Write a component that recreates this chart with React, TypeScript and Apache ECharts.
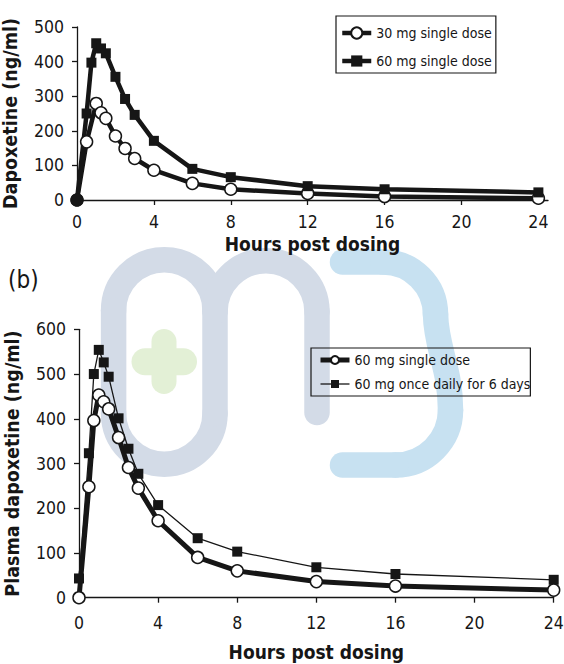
import React, { useEffect, useRef } from "react";
import * as echarts from "echarts";

// ---- Data ----
const xTicks = [0, 4, 8, 12, 16, 20, 24];

// Panel (a)
const hours30a = [0, 0.5, 1, 1.25, 1.5, 2, 2.5, 3, 4, 6, 8, 12, 16, 24];
const conc30a = [0, 168, 279, 252, 236, 185, 149, 120, 86, 48, 31, 19, 10, 5];
const hours60a = [0, 0.5, 0.75, 1, 1.25, 1.5, 2, 2.5, 3, 4, 6, 8, 12, 16, 24];
const conc60a = [0, 250, 397, 453, 438, 424, 356, 292, 246, 171, 90, 66, 40, 31, 22];

// Panel (b)
const hoursSingleB = [0, 0.5, 0.75, 1, 1.25, 1.5, 2, 2.5, 3, 4, 6, 8, 12, 16, 24];
const concSingleB = [0, 248, 396, 453, 438, 422, 358, 291, 245, 172, 90, 60, 36, 26, 17];
const hoursDailyB = [0, 0.5, 0.75, 1, 1.25, 1.5, 2, 2.5, 3, 4, 6, 8, 12, 16, 24];
const concDailyB = [43, 323, 500, 554, 526, 494, 401, 333, 277, 207, 133, 103, 68, 53, 40];

const nameA30 = "30 mg single dose";
const nameA60 = "60 mg single dose";
const nameBSingle = "b:60 mg single dose";
const nameBDaily = "b:60 mg once daily for 6 days";

const FF = "'DejaVu Sans Condensed', 'DejaVu Sans', sans-serif";
const INK = "#161616";

const pairs = (xs: number[], ys: number[]) => xs.map((x, i) => [x, ys[i]]);

export default function App() {
  const ref = useRef<HTMLDivElement>(null);

  useEffect(() => {
    if (!ref.current) return;
    const chart = echarts.init(ref.current, undefined, { renderer: "svg" });

    const xAxisCommon = (gridIndex: number, max: number, labelMargin: number, nameGap: number) => ({
      type: "value",
      gridIndex,
      min: 0,
      max,
      splitLine: { show: false },
      axisLine: { show: true, lineStyle: { color: INK, width: 1.3 } },
      axisTick: { show: true, length: 5, inside: false, customValues: xTicks, lineStyle: { color: INK, width: 1.3 } },
      axisLabel: {
        customValues: xTicks,
        margin: labelMargin,
        fontSize: 17.5,
        fontFamily: FF,
        color: INK,
      },
      name: "Hours post dosing",
      nameLocation: "middle",
      nameGap,
      nameTextStyle: { fontSize: 19, fontWeight: "bold", fontFamily: FF, color: INK },
    });

    const yAxisCommon = (gridIndex: number, max: number, name: string) => ({
      type: "value",
      gridIndex,
      min: 0,
      max,
      interval: 100,
      splitLine: { show: false },
      axisLine: { show: true, lineStyle: { color: INK, width: 1.3 } },
      axisTick: { show: true, length: 5, inside: false, lineStyle: { color: INK, width: 1.3 } },
      axisLabel: { margin: 13, fontSize: 17.5, fontFamily: FF, color: INK },
      name,
      nameLocation: "middle",
      nameGap: 57,
      nameTextStyle: { fontSize: 19.5, fontWeight: "bold", fontFamily: FF, color: INK },
    });

    const wmGrey = "#d3dbe7";
    const wmBlue = "#c7e1f1";
    const wmGreen = "#e3f0d6";
    const sw = 25.5;
    const arc = (cx: number, cy: number, r: number, s: number, e: number, color: string) => ({
      type: "arc",
      z: -10,
      silent: true,
      shape: { cx, cy, r, startAngle: s, endAngle: e, clockwise: true },
      style: { stroke: color, lineWidth: sw, fill: "none", lineCap: "round" },
    });
    const seg = (x1: number, y1: number, x2: number, y2: number, color: string, w = sw) => ({
      type: "line",
      z: -10,
      silent: true,
      shape: { x1, y1, x2, y2 },
      style: { stroke: color, lineWidth: w, lineCap: "round" },
    });
    const PI = Math.PI;

    const watermark = [
      // "m"
      arc(164.3, 310.4, 50.7, PI, 2 * PI, wmGrey),
      arc(164.3, 413.5, 50.7, 0, PI, wmGrey),
      seg(113.6, 310.4, 113.6, 413.5, wmGrey),
      seg(215, 310.4, 215, 413.5, wmGrey),
      arc(266, 311.8, 51, PI, 2 * PI, wmGrey),
      seg(317, 311.8, 317, 412.5, wmGrey),
      // "3"
      seg(342.5, 262, 383, 262, wmBlue),
      arc(383, 314.5, 52.5, 1.5 * PI, 2 * PI, wmBlue),
      {
        type: "bezierCurve",
        z: -10,
        silent: true,
        shape: { x1: 435.5, y1: 314, cpx1: 436, cpy1: 348, cpx2: 450.5, cpy2: 368, x2: 450.5, y2: 410 },
        style: { stroke: wmBlue, lineWidth: sw, fill: "none", lineCap: "round" },
      },
      arc(395.5, 410, 55, 0, 0.5 * PI, wmBlue),
      seg(395.5, 465, 342.5, 465, wmBlue),
      // cross
      seg(145, 361.7, 183.5, 361.7, wmGreen, 27),
      seg(164, 341.5, 164, 381.5, wmGreen, 25),
    ];

    chart.setOption({
      animation: false,
      backgroundColor: "#ffffff",
      textStyle: { fontFamily: FF },
      grid: [
        { left: 77, top: 27, width: 471, height: 173, outerBoundsMode: "none", containLabel: false },
        { left: 79, top: 329.3, width: 474.7, height: 268.4, outerBoundsMode: "none", containLabel: false },
      ],
      xAxis: [xAxisCommon(0, 24.5, 13, 34), xAxisCommon(1, 24, 16, 45)],
      yAxis: [yAxisCommon(0, 500, "Dapoxetine (ng/ml)"), yAxisCommon(1, 600, "Plasma dapoxetine (ng/ml)")],
      legend: [
        {
          left: 336,
          top: 16,
          orient: "vertical",
          selectedMode: false,
          data: [nameA30, nameA60],
          borderColor: INK,
          borderWidth: 1.2,
          borderRadius: 0,
          padding: [10, 4, 5, 4],
          itemGap: 14,
          itemWidth: 29,
          itemHeight: 14,
          textStyle: { fontSize: 14, fontFamily: FF, color: INK },
          lineStyle: { width: "inherit" },
        },
        {
          left: 311,
          top: 348,
          orient: "vertical",
          selectedMode: false,
          data: [nameBSingle, nameBDaily],
          formatter: (n: string) => n.replace(/^b:/, ""),
          borderColor: INK,
          borderWidth: 1.2,
          borderRadius: 0,
          padding: [5, 0, 5, 7],
          itemGap: 10,
          itemWidth: 29,
          itemHeight: 10,
          textStyle: { fontSize: 14, fontFamily: FF, color: INK },
          lineStyle: { width: "inherit" },
        },
      ],
      graphic: [
        ...watermark,
        {
          type: "text",
          x: 8,
          y: 280,
          style: { text: "(b)", fontSize: 24, fontFamily: FF, fill: INK, verticalAlign: "middle" },
        },
      ],
      series: [
        {
          name: nameA30,
          type: "line",
          xAxisIndex: 0,
          yAxisIndex: 0,
          data: pairs(hours30a, conc30a),
          symbol: "circle",
          symbolSize: 12,
          itemStyle: { color: "#ffffff", borderColor: INK, borderWidth: 1.5 },
          lineStyle: { color: INK, width: 4.5 },
        },
        {
          name: nameA60,
          type: "line",
          xAxisIndex: 0,
          yAxisIndex: 0,
          data: pairs(hours60a, conc60a).map((p, i) =>
            i === 0 ? { value: p, symbol: "circle", symbolSize: 13 } : p
          ),
          symbol: "rect",
          symbolSize: 10,
          itemStyle: { color: INK },
          lineStyle: { color: INK, width: 4.5 },
        },
        {
          name: nameBDaily,
          type: "line",
          xAxisIndex: 1,
          yAxisIndex: 1,
          data: pairs(hoursDailyB, concDailyB),
          symbol: "rect",
          symbolSize: 10,
          itemStyle: { color: INK },
          lineStyle: { color: INK, width: 1.3 },
        },
        {
          name: nameBSingle,
          type: "line",
          xAxisIndex: 1,
          yAxisIndex: 1,
          data: pairs(hoursSingleB, concSingleB),
          symbol: "circle",
          symbolSize: 12,
          itemStyle: { color: "#ffffff", borderColor: INK, borderWidth: 1.5 },
          lineStyle: { color: INK, width: 5 },
        },
      ],
    });

    return () => chart.dispose();
  }, []);

  return (
    <div
      ref={ref}
      style={{ position: "fixed", left: 0, top: 0, width: 564, height: 664 }}
    />
  );
}
